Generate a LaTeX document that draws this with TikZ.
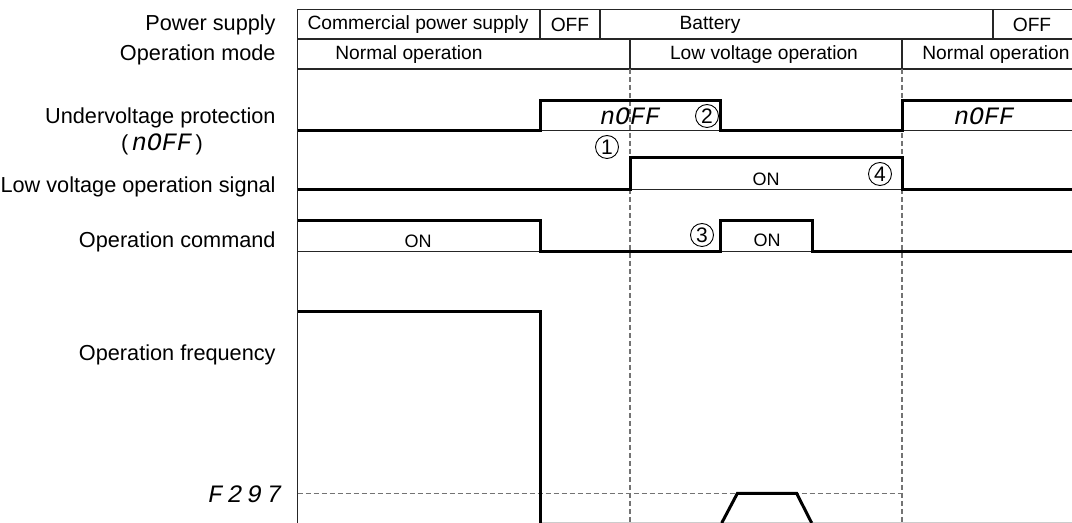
\documentclass[tikz,border=0pt]{standalone}
\usepackage{fontspec}
\setmainfont{Liberation Sans}
\newfontfamily\segfont{Liberation Mono}
\begin{document}
\begin{tikzpicture}[x=0.5pt,y=-0.5pt,
  frame/.style={line width=0.55pt, draw=black!85},
  sig/.style={line width=1.5pt, line join=miter, line cap=butt},
  base/.style={line width=0.5pt, draw=black!85},
  guide/.style={dash pattern=on 2.5pt off 1.5pt, draw=black!55, line width=0.55pt},
  lbl/.style={anchor=east, inner sep=0pt, font=\fontsize{10.85}{12}\selectfont},
  cell/.style={inner sep=0pt, font=\fontsize{9.6}{11}\selectfont},
  ontxt/.style={inner sep=0pt, font=\fontsize{9}{10}\selectfont},
  seg/.style={inner sep=0pt, font=\segfont\itshape\fontsize{12.5}{13}\selectfont},
  num/.style={circle, draw, line width=0.45pt, minimum size=11.5pt, inner sep=0pt, font=\fontsize{10.5}{11}\selectfont}]
\useasboundingbox (0,0) rectangle (1072,523);

% ---------- frame ----------
\coordinate (L0) at (297.7,9.5);
\coordinate (Lb) at (297.7,523);
\draw[frame] (L0) -- (Lb);
\draw[frame] (297.7,9.5) -- (1072,9.5);
\draw[frame] (297.7,39) -- (1072,39);
\draw[frame] (297.7,69) -- (1072,69);
\draw[frame] (540,9.5) -- (540,39);
\draw[frame] (600,9.5) -- (600,39);
\draw[frame] (993,9.5) -- (993,39);
\draw[frame] (630,39) -- (630,69);
\draw[frame] (902,39) -- (902,69);
\draw[guide] (630,69) -- (630,523);
\draw[guide] (902,69) -- (902,523);

% ---------- row texts ----------
\node[cell] (ps1) at (418,25) {Commercial power supply};
\node[cell] (ps2) at (570,25) {OFF};
\node[cell] (ps3) at (710,25) {Battery};
\node[cell] (ps4) at (1032,25) {OFF};
\node[cell] (om1) at (409,55) {Normal operation};
\node[cell] (om2) at (764,55) {Low voltage operation};
\node[cell] (om3) at (996,55) {Normal operation};

% ---------- left labels ----------
\node[lbl] (l1) at (276,25) {Power supply};
\node[lbl] (l2) at (276,55) {Operation mode};
\node[lbl] (l3) at (276,118) {Undervoltage protection};
\node[inner sep=0pt, font=\fontsize{10.85}{12}\selectfont] (l3b) at (162,144) {(\,{\segfont\itshape\fontsize{12.5}{13}\selectfont nOFF}\,)};
\node[lbl] (l4) at (276,187) {Low voltage operation signal};
\node[lbl] (l5) at (276,242) {Operation command};
\node[lbl] (l6) at (276,355) {Operation frequency};
\node[seg, anchor=east] (l7) at (278,494) {\addfontfeature{LetterSpace=18}F297\kern-2pt};

% ---------- undervoltage protection ----------
\draw[base] (540,130.3) -- (720.8,130.3);
\draw[base] (902,130.3) -- (1072,130.3);
\draw[sig] (297.7,130.3) -- (540,130.3) -- (540,100.5) -- (720.8,100.5) -- (720.8,130.3)
  -- (902,130.3) -- (902,100.5) -- (1072,100.5);
\node[seg] (uv1) at (630,116.5) {nOFF};
\node[seg] (uv2) at (984,116.5) {nOFF};
\node[num] (c2) at (707,116) {2};
\node[num] (c1) at (607,147) {1};

% ---------- low voltage operation signal ----------
\draw[base] (630,190) -- (902,190);
\draw[sig] (297.7,190) -- (630,190) -- (630,158) -- (902,158) -- (902,190) -- (1072,190);
\node[ontxt] (lvon) at (766,179) {ON};
\node[num] (c4) at (880,174) {4};

% ---------- operation command ----------
\draw[base] (297.7,252) -- (540,252);
\draw[base] (720.8,252) -- (812,252);
\draw[sig] (297.7,221) -- (540,221) -- (540,252) -- (720.8,252) -- (720.8,221)
  -- (812,221) -- (812,252) -- (1072,252);
\node[ontxt] (oc1) at (418,241) {ON};
\node[ontxt] (oc2) at (767,240) {ON};
\node[num] (c3) at (702,235) {3};

% ---------- operation frequency ----------
\draw[guide] (297.7,493.5) -- (902,493.5);
\draw[line width=0.6pt, draw=black!20] (540,522.7) -- (1072,522.7);
\draw[sig] (297.7,312) -- (540,312) -- (540,523);
\draw[sig] (721.7,523) -- (737.3,493.5) -- (796.7,493.5) -- (811.7,523);
\end{tikzpicture}
\end{document}
